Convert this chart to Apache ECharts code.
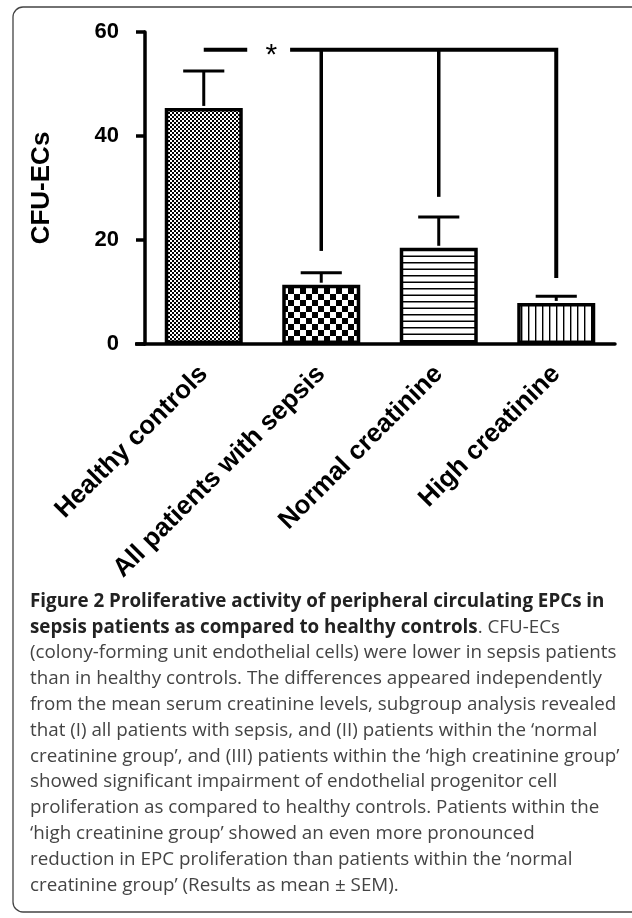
<!DOCTYPE html>
<html>
<head>
<meta charset="utf-8">
<script src="https://cdn.jsdelivr.net/npm/echarts@6/dist/echarts.min.js"></script>
<style>
html,body{margin:0;padding:0;background:#fff;}
#chart{width:632px;height:918px;}
</style>
</head>
<body>
<div id="chart"></div>
<script>
// ---- data ----
const categories = ['Healthy controls', 'All patients with sepsis', 'Normal creatinine', 'High creatinine'];
const means = [45.4, 11.4, 18.5, 7.9];
const semTops = [52.5, 13.7, 24.4, 9.2];
const yTicks = [0, 20, 40, 60];
const bracketLevel = 56.6;
const bracketDropCats = [1, 2, 3];
const bracketDropEnds = [17.9, 28.3, 12.7];
const significanceMark = '*';
const yAxisName = 'CFU-ECs';
const captionBoldLines = [
  'Figure 2 Proliferative activity of peripheral circulating EPCs in',
  'sepsis patients as compared to healthy controls'
];
const captionLine2Tail = '. CFU-ECs';
const captionLines = [
  '(colony-forming unit endothelial cells) were lower in sepsis patients',
  'than in healthy controls. The differences appeared independently',
  'from the mean serum creatinine levels, subgroup analysis revealed',
  'that (I) all patients with sepsis, and (II) patients within the \u2018normal',
  'creatinine group\u2019, and (III) patients within the \u2018high creatinine group\u2019',
  'showed significant impairment of endothelial progenitor cell',
  'proliferation as compared to healthy controls. Patients within the',
  '\u2018high creatinine group\u2019 showed an even more pronounced',
  'reduction in EPC proliferation than patients within the \u2018normal',
  'creatinine group\u2019 (Results as mean \u00b1 SEM).'
];

// ---- patterns ----
function makeCanvas(w, h, draw) {
  const c = document.createElement('canvas');
  c.width = w; c.height = h;
  const ctx = c.getContext('2d');
  ctx.fillStyle = '#fff'; ctx.fillRect(0, 0, w, h);
  ctx.fillStyle = '#000';
  draw(ctx);
  return c;
}
const patFine = makeCanvas(4, 4, ctx => { ctx.fillRect(0, 0, 2, 2); ctx.fillRect(2, 2, 2, 2); });
const patChecker = makeCanvas(12, 12, ctx => { ctx.fillRect(0, 0, 6, 6); ctx.fillRect(6, 6, 6, 6); });
const patHoriz = makeCanvas(4, 13, ctx => { ctx.fillRect(0, 2, 4, 1.5); ctx.fillRect(0, 8.5, 4, 1.5); });
const patVert = makeCanvas(7, 4, ctx => { ctx.fillRect(3, 0, 1.4, 4); });
const patterns = [patFine, patChecker, patHoriz, patVert];

const chart = echarts.init(document.getElementById('chart'), null, { renderer: 'canvas' });
const FONT = '"Liberation Sans", Arial, sans-serif';
const CAPFONT = '"Open Sans", "Noto Sans", sans-serif';

const captionGraphics = [];
const capX = 30, capY0 = 605, capDY = 25.8, capSize = 18.8;
captionGraphics.push({
  type: 'text', left: capX, top: capY0 - 13,
  style: { text: captionBoldLines[0], font: 'bold ' + capSize + 'px ' + CAPFONT, fill: '#222' }
});
captionGraphics.push({
  type: 'text', left: capX, top: capY0 + capDY - 13,
  style: {
    text: '{b|' + captionBoldLines[1] + '}{n|' + captionLine2Tail + '}',
    rich: {
      b: { font: 'bold ' + capSize + 'px ' + CAPFONT, fill: '#222' },
      n: { font: capSize + 'px ' + CAPFONT, fill: '#444' }
    }
  }
});
captionLines.forEach((t, i) => {
  captionGraphics.push({
    type: 'text', left: capX, top: capY0 + (i + 2) * capDY - 13,
    style: { text: t, font: capSize + 'px ' + CAPFONT, fill: '#444' }
  });
});

const option = {
  animation: false,
  backgroundColor: '#fff',
  grid: { left: 145, right: 17, top: 32, bottom: 574, containLabel: false },
  xAxis: {
    type: 'category',
    data: categories,
    boundaryGap: true,
    axisLine: { lineStyle: { color: '#000', width: 3.5 } },
    axisTick: { alignWithLabel: true, length: 11, lineStyle: { color: '#000', width: 3.5 } },
    axisLabel: {
      rotate: 45, margin: 26, interval: 0,
      fontFamily: FONT, fontWeight: 'bold', fontSize: 26, color: '#000'
    },
    splitLine: { show: false }
  },
  yAxis: {
    type: 'value',
    min: yTicks[0], max: yTicks[yTicks.length - 1], interval: 20,
    name: yAxisName, nameLocation: 'middle', nameGap: 90, nameRotate: 90,
    nameTextStyle: { fontFamily: FONT, fontWeight: 'bold', fontSize: 26, color: '#000' },
    axisLine: { show: true, lineStyle: { color: '#000', width: 3.5 } },
    axisTick: { show: true, length: 9, lineStyle: { color: '#000', width: 3.5 } },
    axisLabel: { margin: 26, fontFamily: FONT, fontWeight: 'bold', fontSize: 22, color: '#000' },
    splitLine: { show: false }
  },
  series: [
    {
      type: 'bar',
      barWidth: 78,
      data: means.map((v, i) => ({
        value: v,
        itemStyle: {
          color: { image: patterns[i], repeat: 'repeat' },
          borderColor: '#000', borderWidth: 3.5
        }
      })),
      z: 2
    },
    {
      type: 'custom',
      z: 3,
      data: means.map((v, i) => [i, v, semTops[i]]),
      renderItem: function (params, api) {
        const base = api.coord([api.value(0), api.value(1)]);
        const top = api.coord([api.value(0), api.value(2)]);
        const band = api.size([1, 0])[0];
        const hw = band * 0.175;
        const st = { stroke: '#000', lineWidth: 3 };
        return {
          type: 'group',
          children: [
            { type: 'line', shape: { x1: base[0], y1: base[1] - 2, x2: top[0], y2: top[1] }, style: st },
            { type: 'line', shape: { x1: top[0] - hw, y1: top[1], x2: top[0] + hw, y2: top[1] }, style: st }
          ]
        };
      }
    },
    {
      type: 'custom',
      z: 4,
      data: [[0, bracketLevel]],
      renderItem: function (params, api) {
        const p0 = api.coord([0, bracketLevel]);
        const band = api.size([1, 0])[0];
        const lastCat = bracketDropCats[bracketDropCats.length - 1];
        const pEnd = api.coord([lastCat, bracketLevel]);
        const y = p0[1];
        const hs = { stroke: '#000', lineWidth: 4 };
        const children = [
          { type: 'line', shape: { x1: p0[0], y1: y, x2: p0[0] + band * 0.37, y2: y }, style: hs },
          { type: 'polyline', shape: { points: [[p0[0] + band * 0.735, y], [pEnd[0], y], [pEnd[0], api.coord([lastCat, bracketDropEnds[bracketDropEnds.length - 1]])[1]]] }, style: { stroke: '#000', lineWidth: 4, fill: null, lineJoin: 'miter' } },
          { type: 'text', x: p0[0] + band * 0.575, y: y + 6, style: { text: significanceMark, font: '30px ' + FONT, fill: '#000', align: 'center', verticalAlign: 'middle' } }
        ];
        bracketDropCats.forEach((c, i) => {
          if (i === bracketDropCats.length - 1) return;
          const a = api.coord([c, bracketLevel]);
          const b = api.coord([c, bracketDropEnds[i]]);
          children.push({ type: 'line', shape: { x1: a[0], y1: a[1], x2: b[0], y2: b[1] }, style: { stroke: '#000', lineWidth: 3.5 } });
        });
        return { type: 'group', children: children };
      }
    }
  ],
  graphic: [
    { type: 'rect', shape: { x: 13, y: 7, width: 630, height: 905, r: 10 }, style: { fill: null, stroke: '#444', lineWidth: 1.3 }, z: 0 }
  ].concat(captionGraphics)
};
chart.setOption(option);

// extend the x axis line a little to the left of the y axis, as in the reference
const origin = chart.convertToPixel({ xAxisIndex: 0, yAxisIndex: 0 }, [0, 0]);
const yAxisX = 145;
chart.setOption({
  graphic: option.graphic.concat([
    { type: 'line', shape: { x1: yAxisX - 10, y1: origin[1], x2: yAxisX, y2: origin[1] }, style: { stroke: '#000', lineWidth: 3.5 }, z: 10 }
  ])
});
</script>
</body>
</html>
